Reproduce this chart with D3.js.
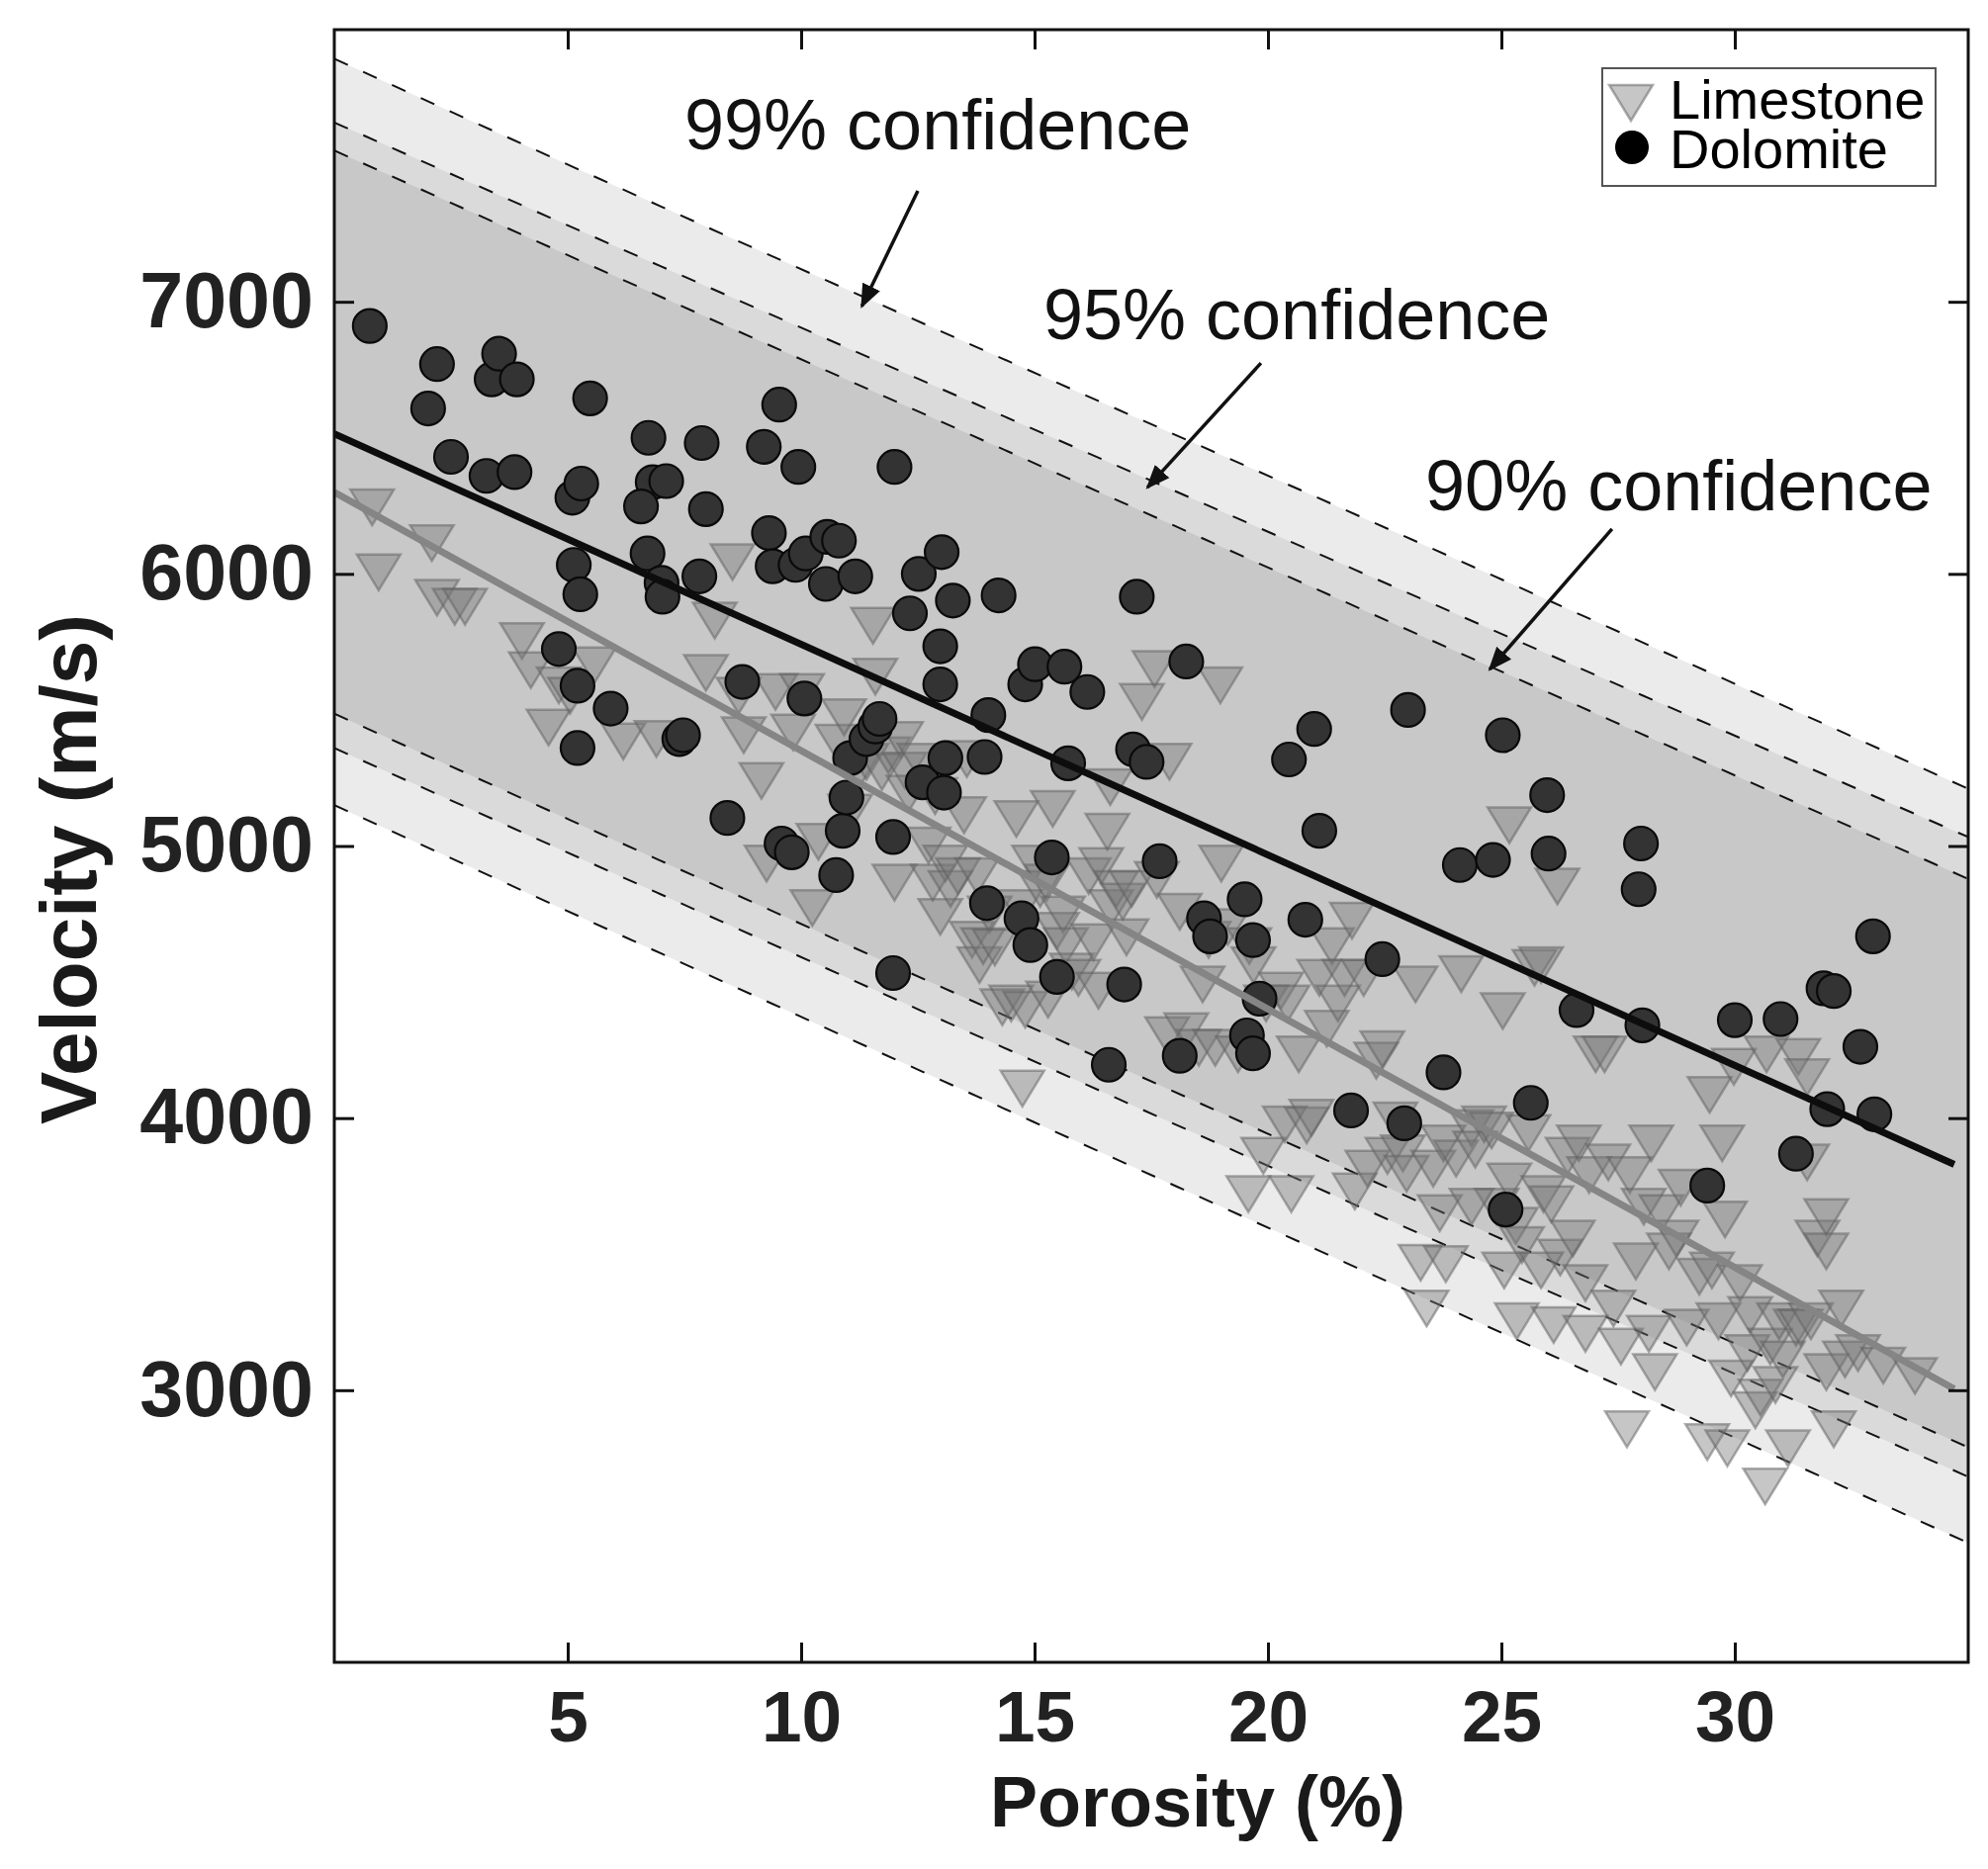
<!DOCTYPE html>
<html>
<head>
<meta charset="utf-8">
<script src="https://cdn.jsdelivr.net/npm/d3@7"></script>
<style>
  html, body { margin: 0; padding: 0; background: #fff; }
  svg text { font-family: "Liberation Sans", Arial, sans-serif; }
</style>
</head>
<body>
<svg id="chart"></svg>
<script>
// tick labels
const xTicks = [5, 10, 15, 20, 25, 30];
const yTicks = [3000, 4000, 5000, 6000, 7000];

// Dolomite samples: porosity (%) and velocity (m/s)
const dolPorosity = [0.76, 2.01, 2.20, 2.50, 3.26, 3.37, 3.53, 3.91, 3.86, 5.48, 5.10, 5.29, 5.13, 5.27, 4.81, 5.21,
  5.21, 5.92, 6.73, 6.82, 6.57, 6.71, 7.11, 7.01, 7.03, 7.39, 7.47, 7.87, 7.96, 7.82, 8.74, 8.42, 9.20, 9.53, 9.31,
  9.39, 9.88, 9.94, 10.10, 9.58, 9.80, 10.07, 10.53, 10.56, 10.81, 11.16, 10.75, 10.89, 10.97, 11.05, 11.40, 11.59,
  11.68, 12.00, 11.97, 11.97, 12.33, 12.52, 12.60, 13.01, 12.98, 12.98, 13.09, 13.06, 13.25, 14.23, 14.01, 13.93,
  13.98, 14.72, 14.91, 14.80, 15.01, 15.64, 15.72, 15.37, 15.48, 16.13, 16.59, 16.92, 17.19, 17.11, 17.40, 17.68,
  18.25, 18.11, 18.63, 18.76, 19.50, 19.68, 19.55, 19.68, 19.82, 20.45, 20.80, 20.99, 21.10, 21.78, 22.45, 22.92,
  23.00, 23.76, 24.11, 24.82, 25.03, 25.09, 25.63, 25.98, 26.01, 26.61, 27.94, 27.99, 28.02, 29.41, 30.00, 30.98,
  31.31, 31.90, 32.12, 31.98, 32.69, 32.96, 32.99];
const dolVelocity = [6911, 6608, 6771, 6430, 6360, 6715, 6809, 6715, 6374, 6645, 6280, 6332, 6033, 5925, 5724, 5589,
  5360, 5505, 6500, 6337, 6248, 6075, 6341, 5967, 5916, 5393, 5407, 6481, 6238, 5991, 5603, 5103, 6467, 6622, 6150,
  6028, 6033, 6393, 6075, 5009, 4977, 5542, 5963, 6136, 6122, 5991, 4893, 5056, 5178, 5323, 5393, 5439,
  5467, 6393, 5033, 4533, 5855, 6000, 5234, 6080, 5734, 5594, 5323, 5196, 5902, 5921, 5481, 5327,
  4790, 4734, 4636, 5594, 5668, 5659, 5304, 4958, 4519, 5566, 4196, 4491, 5916, 5355, 5309, 4944,
  5678, 4229, 4734, 4668, 4804, 4654, 4304, 4238, 4439, 5318, 4729, 5430, 5056, 4028, 4584, 3981,
  5500, 4168, 4930, 4949, 5407, 3664, 4056, 5187, 4972, 4397, 4841, 5009, 4341, 3752, 4360, 4364,
  3869, 4477, 4467, 4033, 4262, 4668, 4014];

// Limestone samples
const limePorosity = [0.81, 0.95, 2.09, 2.20, 2.58, 2.80, 4.02, 4.21, 4.59, 4.81, 5.05, 5.57, 6.19, 6.90, 7.96, 8.15,
  8.53, 8.66, 8.77, 9.15, 9.26, 9.45, 9.83, 10.02, 10.24, 10.37, 10.78, 10.92, 11.05, 11.21, 11.40, 11.54, 11.59,
  11.73, 11.87, 12.00, 12.14, 12.22, 12.30, 12.54, 12.73, 12.82, 12.87, 12.98, 13.09, 13.20, 13.36, 13.49, 13.55,
  13.66, 13.77, 13.82, 13.90, 14.04, 14.15, 14.31, 14.50, 14.61, 14.69, 14.74, 14.80, 14.99, 15.12, 15.26, 15.29,
  15.39, 15.48, 15.61, 15.67, 15.80, 15.94, 16.16, 16.26, 16.37, 16.43, 16.56, 16.62, 16.64, 16.75, 16.89, 16.97,
  17.08, 17.30, 17.57, 17.62, 17.89, 17.84, 18.11, 18.25, 18.52, 18.60, 18.73, 18.87, 18.98, 19.00, 19.14, 19.36,
  19.60, 19.69, 19.58, 19.96, 19.90, 20.28, 20.42, 20.36, 20.50, 20.66, 20.83, 20.93, 21.10, 21.26, 21.37, 21.50,
  21.64, 21.80, 21.86, 22.05, 22.13, 22.32, 22.45, 22.56, 22.73, 22.89, 22.97, 23.16, 23.27, 23.40, 23.54, 23.76,
  23.81, 24.03, 24.14, 24.36, 24.44, 24.63, 24.79, 24.90, 25.03, 25.06, 25.17, 25.31, 25.17, 25.33, 25.44, 25.58,
  25.71, 25.85, 25.90, 26.07, 26.12, 26.20, 26.26, 26.42, 26.53, 26.66, 26.80, 26.88, 27.02, 27.21, 27.29, 27.40,
  27.56, 27.69, 27.75, 27.88, 28.05, 28.16, 28.21, 28.29, 28.43, 28.59, 28.75, 28.84, 28.97, 29.24, 29.41, 29.46,
  29.51, 29.65, 29.73, 29.79, 29.84, 29.92, 29.98, 30.11, 30.27, 30.33, 30.44, 30.55, 30.65, 30.68, 30.76, 30.87,
  30.95, 31.03, 31.14, 31.31, 31.41, 31.55, 31.63, 31.77, 31.96, 31.96, 32.12, 32.28, 32.36, 32.64, 33.18, 33.86,
  31.36, 31.96, 31.55, 23.68, 24.36, 25.85, 26.80];
const limeVelocity = [6248, 6009, 6117, 5916, 5883, 5883, 5757, 5650, 5439, 5594, 5556, 5668, 5388, 5397, 5640, 5832,
  6047, 5556, 5411, 5243, 4939, 5570, 5421, 5570, 4776, 5019, 5383, 5477, 5126, 5276, 5313, 5813, 5626,
  5276, 5337, 4869, 5393, 5281, 5196, 5313, 5005, 4869, 5187, 4743, 4939, 4846, 4893, 5117, 5323,
  4659, 4893, 4566, 4636, 4752, 4631, 4411, 4425, 5103, 4776, 4112, 4402, 4939, 4846, 4869, 4439,
  5140, 4692, 4752, 4636, 4542, 4519, 4893, 4650, 4472, 4930, 5056, 5220, 4776, 4846, 4799, 4668,
  4846, 5533, 5654, 4879, 5313, 4309, 4762, 4323, 4262, 4495, 4659, 4262, 5594, 4939, 4706, 4238,
  4636, 4566, 3724, 4425, 3865, 4472, 4425, 3981, 3724, 4238, 3977, 4005, 4519, 4332, 4636, 4425,
  4519, 4729, 3734, 4519, 3818, 4215, 4257, 3865, 3995, 3874, 3799, 4495, 3472, 3304, 3818, 3911,
  3467, 3855, 4533, 3967, 3888, 3981, 3958, 3678, 4397, 3444, 3771, 3608, 5080, 3257, 3537, 3949,
  4556, 4566, 3724, 3687, 3243, 4855, 3491, 3865, 3561, 3911, 3211, 3794, 4238, 4238, 3841, 3304,
  3164, 2860, 3794, 3477, 3678, 3211, 3911, 3070, 3654, 3514, 3561, 3748, 3234, 3421, 2813, 4089,
  3444, 3257, 3911, 3631, 2790, 3047, 4192, 3397, 3140, 3280, 2930, 2977, 2650, 4238, 3164, 3023,
  3257, 3117, 2790, 3234, 3234, 3841, 3257, 3561, 3514, 3070, 2860, 3304, 3117, 3140, 3094, 3056,
  4229, 3640, 4154, 3654, 3678, 3444, 3397];

// regression lines (end points)
const fitPorosity = [0, 34.7];
const dolomiteFit = [6515, 3830];
const limestoneFit = [6300, 3005];

// confidence limits read at these porosities
const bandPorosity = [0, 7, 14, 21, 28, 35];
const upper99 = [7893, 7350, 6815, 6285, 5750, 5210];
const upper95 = [7659, 7130, 6605, 6080, 5555, 5033];
const upper90 = [7556, 7018, 6483, 5947, 5412, 4879];
const lower90 = [5486, 4945, 4405, 3865, 3325, 2790];
const lower95 = [5360, 4822, 4285, 3748, 3212, 2682];
const lower99 = [5150, 4605, 4062, 3520, 2980, 2439];

const width = 2010, height = 1890;
const margin = { top: 30, right: 20, bottom: 209, left: 338 };

const x = d3.scaleLinear().domain([0, 35]).range([margin.left, width - margin.right]);
const y = d3.scaleLinear().domain([2000, 8000]).range([height - margin.bottom, margin.top]);

const svg = d3.select("#chart")
  .attr("width", width)
  .attr("height", height);

svg.append("defs").append("clipPath")
  .attr("id", "plotClip")
  .append("rect")
  .attr("x", x(0)).attr("y", y(8000))
  .attr("width", x(35) - x(0)).attr("height", y(2000) - y(8000));

svg.select("defs").append("marker")
  .attr("id", "arrowHead")
  .attr("viewBox", "0 0 10 10")
  .attr("refX", 9).attr("refY", 5)
  .attr("markerWidth", 7).attr("markerHeight", 7)
  .attr("markerUnits", "strokeWidth")
  .attr("orient", "auto")
  .append("path")
  .attr("d", "M0,1L10,5L0,9Z")
  .attr("fill", "#111");

const plot = svg.append("g").attr("clip-path", "url(#plotClip)");

// shaded confidence bands, widest first
const bands = [
  { up: upper99, lo: lower99, fill: "#ebebeb" },
  { up: upper95, lo: lower95, fill: "#dadada" },
  { up: upper90, lo: lower90, fill: "#c8c8c8" }
];

bands.forEach(b => {
  const area = d3.area()
    .curve(d3.curveMonotoneX)
    .x((d, i) => x(bandPorosity[i]))
    .y0((d, i) => y(b.lo[i]))
    .y1((d, i) => y(b.up[i]));
  plot.append("path")
    .datum(b.up)
    .attr("d", area)
    .attr("fill", b.fill);
});

// dashed limit curves
const limitLine = d3.line()
  .curve(d3.curveMonotoneX)
  .x((d, i) => x(bandPorosity[i]))
  .y(d => y(d));

[upper99, upper95, upper90, lower90, lower95, lower99].forEach(vals => {
  plot.append("path")
    .datum(vals)
    .attr("d", limitLine)
    .attr("fill", "none")
    .attr("stroke", "#111")
    .attr("stroke-width", 2)
    .attr("stroke-dasharray", "15,17");
});

// limestone triangles (translucent)
const triPath = "M-22,-17L22,-17L0,19Z";
plot.append("g")
  .selectAll("path")
  .data(d3.range(limePorosity.length))
  .enter()
  .append("path")
  .attr("d", triPath)
  .attr("transform", i => `translate(${x(limePorosity[i])},${y(limeVelocity[i])})`)
  .attr("fill", "rgba(120,120,120,0.42)")
  .attr("stroke", "rgba(95,95,95,0.5)")
  .attr("stroke-width", 2.5)
  .attr("stroke-linejoin", "miter");

// dolomite circles
plot.append("g")
  .selectAll("circle")
  .data(d3.range(dolPorosity.length))
  .enter()
  .append("circle")
  .attr("cx", i => x(dolPorosity[i]))
  .attr("cy", i => y(dolVelocity[i]))
  .attr("r", 17)
  .attr("fill", "#333")
  .attr("stroke", "#0a0a0a")
  .attr("stroke-width", 2.2);

// regression lines
const fitLine = d3.line()
  .x((d, i) => x(fitPorosity[i]))
  .y(d => y(d));

plot.append("path")
  .datum(limestoneFit)
  .attr("d", fitLine)
  .attr("stroke", "#858585")
  .attr("stroke-width", 7)
  .attr("fill", "none");

plot.append("path")
  .datum(dolomiteFit)
  .attr("d", fitLine)
  .attr("stroke", "#0d0d0d")
  .attr("stroke-width", 7)
  .attr("fill", "none");

// axes with inward ticks on all four sides
const styleAxis = (g, size) => {
  g.select(".domain").remove();
  g.selectAll(".tick line").attr("stroke", "#111").attr("stroke-width", 3);
  g.selectAll(".tick text")
    .attr("fill", "#222")
    .style("font-size", size + "px")
    .style("font-weight", "bold")
    .style("font-family", "'Liberation Sans', Arial, sans-serif");
};

svg.append("g")
  .attr("transform", `translate(0,${y(2000)})`)
  .call(d3.axisBottom(x).tickValues(xTicks).tickSize(-20).tickPadding(28))
  .call(g => styleAxis(g, 73));

svg.append("g")
  .attr("transform", `translate(0,${y(8000)})`)
  .call(d3.axisTop(x).tickValues(xTicks).tickSize(-20).tickFormat(""))
  .call(g => styleAxis(g, 10));

svg.append("g")
  .attr("transform", `translate(${x(0)},0)`)
  .call(d3.axisLeft(y).tickValues(yTicks).tickSize(-20).tickPadding(21).tickFormat(d3.format("d")))
  .call(g => styleAxis(g, 79));

svg.append("g")
  .attr("transform", `translate(${x(35)},0)`)
  .call(d3.axisRight(y).tickValues(yTicks).tickSize(-20).tickFormat(""))
  .call(g => styleAxis(g, 10));

// frame
svg.append("rect")
  .attr("x", x(0)).attr("y", y(8000))
  .attr("width", x(35) - x(0)).attr("height", y(2000) - y(8000))
  .attr("fill", "none")
  .attr("stroke", "#111")
  .attr("stroke-width", 3);

// axis titles
svg.append("text")
  .attr("x", 1211).attr("y", 1847)
  .attr("text-anchor", "middle")
  .style("font-size", "72px").style("font-weight", "bold")
  .attr("fill", "#1a1a1a")
  .text("Porosity (%)");

svg.append("text")
  .attr("transform", "translate(97,879) rotate(-90)")
  .attr("text-anchor", "middle")
  .style("font-size", "80px").style("font-weight", "bold")
  .attr("fill", "#1a1a1a")
  .text("Velocity (m/s)");

// confidence annotations with arrows
const notes = [
  { label: "99% confidence", tx: 7.5, tv: 7560, from: [12.5, 7408], to: [11.3, 6983] },
  { label: "95% confidence", tx: 15.19, tv: 6863, from: [19.85, 6775], to: [17.42, 6318] },
  { label: "90% confidence", tx: 23.37, tv: 6234, from: [27.37, 6165], to: [24.75, 5649] }
];

notes.forEach(n => {
  svg.append("text")
    .attr("x", x(n.tx)).attr("y", y(n.tv))
    .style("font-size", "72px")
    .attr("fill", "#111")
    .text(n.label);
  svg.append("line")
    .attr("x1", x(n.from[0])).attr("y1", y(n.from[1]))
    .attr("x2", x(n.to[0])).attr("y2", y(n.to[1]))
    .attr("stroke", "#111")
    .attr("stroke-width", 3.5)
    .attr("marker-end", "url(#arrowHead)");
});

// legend
const legend = svg.append("g");
legend.append("rect")
  .attr("x", 1620).attr("y", 69)
  .attr("width", 337).attr("height", 119)
  .attr("fill", "#fff")
  .attr("stroke", "#555")
  .attr("stroke-width", 2);
legend.append("path")
  .attr("d", triPath)
  .attr("transform", "translate(1649,103)")
  .attr("fill", "rgba(120,120,120,0.42)")
  .attr("stroke", "rgba(95,95,95,0.5)")
  .attr("stroke-width", 2.5);
legend.append("circle")
  .attr("cx", 1650).attr("cy", 149).attr("r", 17)
  .attr("fill", "#000");
legend.append("text")
  .attr("x", 1688).attr("y", 120)
  .style("font-size", "56px")
  .attr("fill", "#000")
  .text("Limestone");
legend.append("text")
  .attr("x", 1688).attr("y", 170)
  .style("font-size", "56px")
  .attr("fill", "#000")
  .text("Dolomite");
</script>
</body>
</html>
